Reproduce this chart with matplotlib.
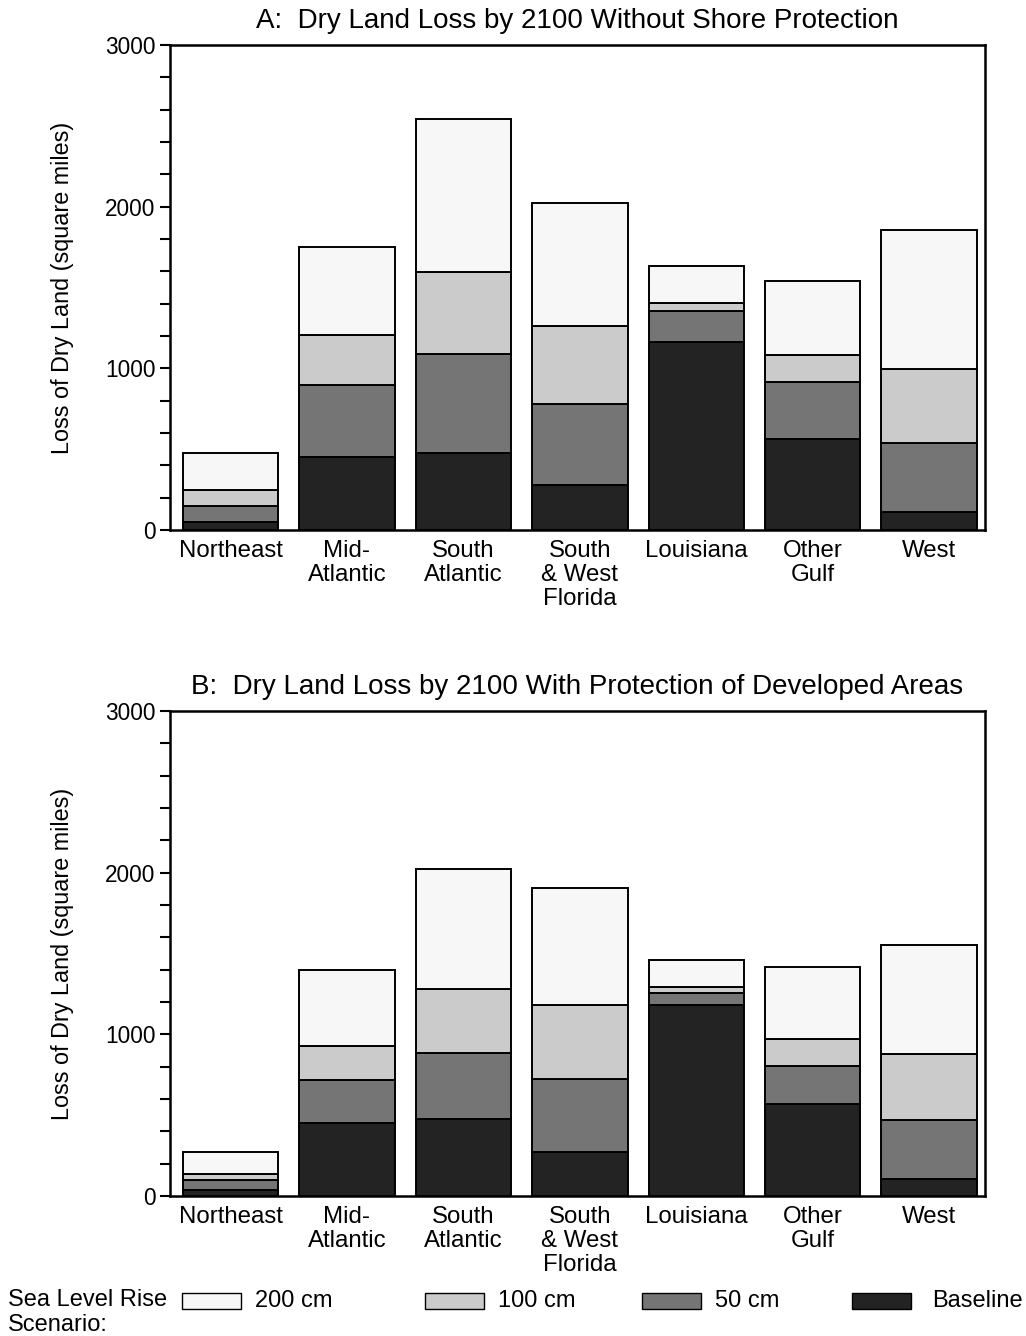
import numpy as np
from matplotlib import pyplot as plt
from matplotlib.patches import Rectangle
from matplotlib.ticker import MultipleLocator

plt.rcParams['font.family'] = ['Liberation Sans', 'DejaVu Sans']

regions = ['Northeast', 'Mid-\nAtlantic', 'South\nAtlantic', 'South\n& West\nFlorida',
           'Louisiana', 'Other\nGulf', 'West']
scenarios = ['Baseline', '50 cm', '100 cm', '200 cm']
colors = ['#232323', '#757575', '#cbcbcb', '#f7f7f7']

# cumulative totals (square miles), per scenario
# panel A: without shore protection
a_base = [51, 451, 478, 278, 1164, 561, 109]
a_50 = [150, 900, 1088, 779, 1356, 917, 540]
a_100 = [247, 1205, 1597, 1259, 1405, 1082, 993]
a_200 = [474, 1749, 2542, 2023, 1632, 1541, 1856]
# panel B: with protection of developed areas
b_base = [37, 450, 478, 274, 1181, 567, 105]
b_50 = [99, 718, 883, 726, 1258, 806, 468]
b_100 = [138, 928, 1278, 1181, 1295, 973, 876]
b_200 = [272, 1398, 2025, 1906, 1460, 1418, 1553]

titles = ['A:  Dry Land Loss by 2100 Without Shore Protection',
          'B:  Dry Land Loss by 2100 With Protection of Developed Areas']


def panel(ax, levels, title):
    x = np.arange(len(regions))
    prev = np.zeros(len(regions))
    for lev, c in zip(levels, colors):
        lev = np.array(lev)
        ax.bar(x + 0.02, lev - prev, bottom=prev, width=0.82, color=c,
               edgecolor='black', linewidth=1.4)
        prev = lev
    ax.set_xlim(-0.5, 6.5)
    ax.set_ylim(0, 3000)
    ax.set_xticks(x + 0.02)
    ax.set_xticklabels(regions, fontsize=17.3)
    for t in ax.get_xticklabels():
        t.set_linespacing(1.12)
    ax.tick_params(axis='x', length=0, pad=7)
    ax.yaxis.set_major_locator(MultipleLocator(1000))
    ax.yaxis.set_minor_locator(MultipleLocator(200))
    ax.tick_params(axis='y', which='major', length=7.5, width=1.5, labelsize=16.3, pad=3)
    ax.tick_params(axis='y', which='minor', length=7.5, width=1.5)
    for s in ax.spines.values():
        s.set_linewidth(1.8)
    ax.set_ylabel('Loss of Dry Land (square miles)', fontsize=16.8, labelpad=22)
    ax.set_title(title, fontsize=20, pad=12)


fig = plt.figure(figsize=(10.26, 13.36), dpi=100)
ax1 = fig.add_axes([0.1657, 0.6033, 0.7943, 0.3630])
ax2 = fig.add_axes([0.1657, 0.1048, 0.7943, 0.3630])
panel(ax1, [a_base, a_50, a_100, a_200], titles[0])
panel(ax2, [b_base, b_50, b_100, b_200], titles[1])

# legend along the bottom
fig.text(8 / 1026, 1 - 1289 / 1336, 'Sea Level Rise\nScenario:', fontsize=17,
         va='top', ha='left', linespacing=1.15)
patch_x = [852, 642, 425, 182]
for px, c, lab in zip(patch_x, colors, scenarios):
    fig.add_artist(Rectangle((px / 1026, 1 - 1309 / 1336), 59 / 1026, 16 / 1336,
                             transform=fig.transFigure, facecolor=c,
                             edgecolor='black', linewidth=1.0))
    tx = px + 80 if lab == 'Baseline' else px + 73
    fig.text(tx / 1026, 1 - 1301 / 1336, lab, fontsize=17, va='center', ha='left')

fig.savefig('out.png', dpi=100)
plt.close()
